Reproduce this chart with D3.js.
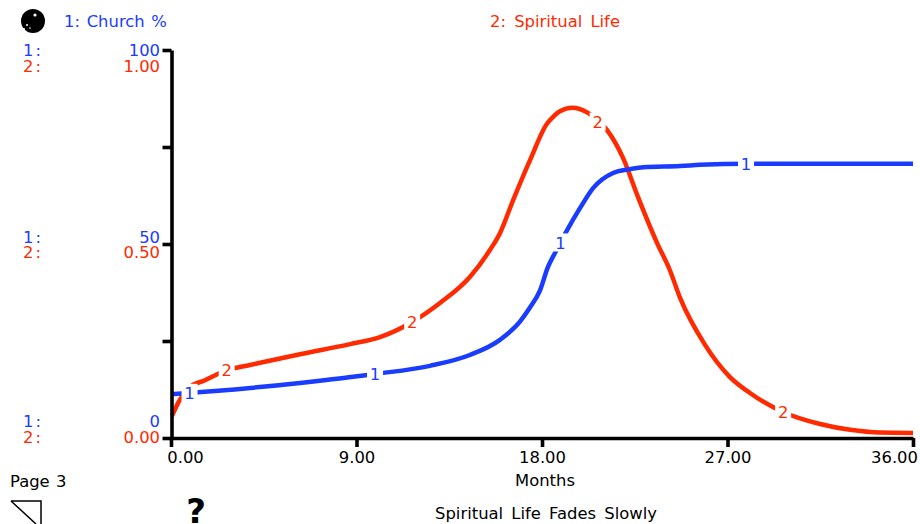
<!DOCTYPE html>
<html>
<head>
<meta charset="utf-8">
<script src="https://cdn.jsdelivr.net/npm/d3@7"></script>
<style>
  html, body { margin: 0; padding: 0; background: #fff; overflow: hidden; }
  text { font-family: "DejaVu Sans", sans-serif; font-size: 16.4px; }
</style>
</head>
<body>
<div id="chart"></div>
<script>
// values
const lifeMonths = [0.05, 0.34, 0.92, 1.65, 2.72, 3.83, 6.26, 8.69, 10.14, 11.7, 13.05, 14.5, 15.48, 15.96, 16.6, 17.42, 18.24, 18.53, 18.87, 19.46, 20.23, 21.15, 21.93, 22.66, 23.58, 24.2, 24.7, 25.91, 27.12, 28.09, 29.69, 31.49, 32.95, 34.4, 36];
const lifeValues = [0.057, 0.09, 0.131, 0.149, 0.175, 0.188, 0.216, 0.242, 0.26, 0.299, 0.348, 0.415, 0.485, 0.528, 0.613, 0.716, 0.81, 0.827, 0.842, 0.851, 0.838, 0.794, 0.722, 0.621, 0.503, 0.433, 0.361, 0.24, 0.157, 0.116, 0.067, 0.036, 0.021, 0.014, 0.013];
const churchMonths = [0, 2.13, 6.26, 9.9, 12.56, 14.5, 15.96, 16.93, 17.4, 17.9, 18.29, 18.63, 19.22, 19.85, 20.48, 21.45, 22.28, 22.91, 24.7, 25.67, 27.86, 36];
const churchValues = [11.3, 12.1, 14.2, 16.5, 18.6, 21.4, 25.3, 30, 33.5, 38, 44.1, 47.7, 53.6, 59.3, 64.4, 68.3, 69.3, 69.8, 70.1, 70.4, 70.7, 70.7];

const churchMarkers = [0.9, 9.9, 18.9, 27.9];
const lifeMarkers = [2.7, 11.7, 20.7, 29.7];

const xTicks = [0, 9, 18, 27, 36];
const yTickFractions = [0, 0.25, 0.5, 0.75, 1];
const churchLabels = [[100, 0], [50, -7], [0, -17]];
const lifeLabels = [[1, 16], [0.5, 8], [0, -1]];

const blue = "#1a3cff";
const red = "#ff2a00";

const width = 920, height = 524;
const svg = d3.select("#chart").append("svg")
  .attr("width", width)
  .attr("height", height);

const x = d3.scaleLinear().domain([0, 36]).range([171, 913]);
const yLife = d3.scaleLinear().domain([0, 1]).range([438, 50]);
const yChurch = d3.scaleLinear().domain([0, 100]).range([438, 50]);

// Curves
function drawSeries(months, values, y, color) {
  const line = d3.line().curve(d3.curveMonotoneX).x((d, i) => x(months[i])).y(d => y(d));
  svg.append("path")
    .attr("d", line(values))
    .attr("fill", "none")
    .attr("stroke", color)
    .attr("stroke-width", 4.5)
    .attr("stroke-linejoin", "round");
}
drawSeries(lifeMonths, lifeValues, yLife, red);
drawSeries(churchMonths, churchValues, yChurch, blue);

// Number markers sit in a white gap on their curve
function drawMarkers(marks, months, values, y, color, label) {
  const at = d3.scaleLinear().domain(months).range(values);
  marks.forEach(m => {
    const cy = y(at(m));
    svg.append("rect")
      .attr("x", x(m) - 8).attr("y", cy - 9)
      .attr("width", 16).attr("height", 18)
      .attr("fill", "#fff");
    svg.append("text")
      .attr("x", x(m)).attr("y", cy)
      .attr("dy", "0.37em")
      .attr("text-anchor", "middle")
      .attr("fill", color)
      .text(label);
  });
}
drawMarkers(churchMarkers, churchMonths, churchValues, yChurch, blue, "1");
drawMarkers(lifeMarkers, lifeMonths, lifeValues, yLife, red, "2");

// Axes
const axisY = d3.axisLeft(yLife).tickValues(yTickFractions).tickSize(9).tickFormat("").tickSizeOuter(0);
svg.append("g").attr("transform", "translate(171.5,0)").call(axisY);
const axisX = d3.axisBottom(x).tickValues(xTicks).tickSize(9).tickFormat(d => d3.format(".2f")(d)).tickSizeOuter(0);
const gx = svg.append("g").attr("transform", "translate(0,438)").call(axisX);
svg.selectAll(".domain").attr("stroke", "#000").attr("stroke-width", 3.6);
svg.selectAll(".tick line").attr("stroke", "#000").attr("stroke-width", 3.6);
gx.attr("font-family", null).attr("font-size", null);
gx.selectAll("text").attr("fill", "#000").attr("y", 13).attr("dy", "0.71em");
gx.selectAll(".tick text").filter(d => d === 0).attr("dx", 14);
gx.selectAll(".tick text").filter(d => d === 36).attr("dx", -19);

// Scale labels
function drawScale(rows, y, color, fmt, tag) {
  rows.forEach(([v, off]) => {
    const py = y(v) + off;
    svg.append("text").attr("x", 160).attr("y", py).attr("dy", "0.37em")
      .attr("text-anchor", "end").attr("fill", color).text(fmt(v));
    svg.append("text").attr("x", 23).attr("y", py).attr("dy", "0.37em")
      .attr("fill", color).style("letter-spacing", "2px").text(tag);
  });
}
drawScale(churchLabels, yChurch, blue, d3.format("d"), "1:");
drawScale(lifeLabels, yLife, red, d3.format(".2f"), "2:");

// Header and footer text
svg.append("text").attr("x", 64).attr("y", 27).attr("fill", blue).style("word-spacing", "1.5px").text("1: Church %");
svg.append("text").attr("x", 490).attr("y", 27).attr("fill", red).style("word-spacing", "3px").text("2: Spiritual Life");
svg.append("text").attr("x", 545).attr("y", 486).attr("text-anchor", "middle").attr("fill", "#000").text("Months");
svg.append("text").attr("x", 10).attr("y", 487).attr("fill", "#000").style("word-spacing", "1px").text("Page 3");
svg.append("text").attr("x", 546).attr("y", 519).attr("text-anchor", "middle").attr("fill", "#000").style("word-spacing", "3px").text("Spiritual Life Fades Slowly");
svg.append("text").attr("x", 196).attr("y", 523).attr("text-anchor", "middle").attr("fill", "#000")
  .style("font-size", "34px").style("font-weight", "bold").text("?");

// Ball icon
svg.append("circle").attr("cx", 33).attr("cy", 21).attr("r", 12).attr("fill", "#000");
svg.selectAll(".speck").data([[35, 15, 1.6], [27, 25, 1], [30, 28, 0.8], [24, 29, 1]]).join("circle")
  .attr("cx", d => d[0]).attr("cy", d => d[1]).attr("r", d => d[2]).attr("fill", "#fff");

// Page corner icon
svg.append("path").attr("d", "M11,501 H41 V524 M11,501 L36,524").attr("fill", "none").attr("stroke", "#000").attr("stroke-width", 1.5);
</script>
</body>
</html>
